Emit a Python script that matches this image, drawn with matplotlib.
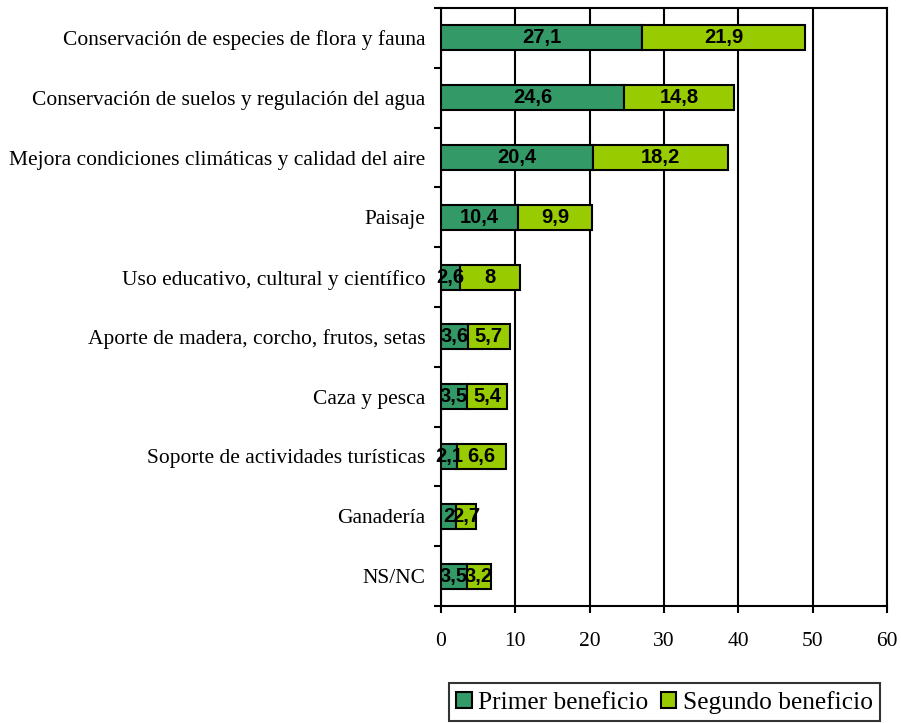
import matplotlib
matplotlib.use("Agg")
import matplotlib.pyplot as plt
import numpy as np

categories = [
    "Conservación de especies de flora y fauna",
    "Conservación de suelos y regulación del agua",
    "Mejora condiciones climáticas y calidad del aire",
    "Paisaje",
    "Uso educativo, cultural y científico",
    "Aporte de madera, corcho, frutos, setas",
    "Caza y pesca",
    "Soporte de actividades turísticas",
    "Ganadería",
    "NS/NC",
]
primer = [27.1, 24.6, 20.4, 10.4, 2.6, 3.6, 3.5, 2.1, 2.0, 3.5]
segundo = [21.9, 14.8, 18.2, 9.9, 8.0, 5.7, 5.4, 6.6, 2.7, 3.2]
series_names = ["Primer beneficio", "Segundo beneficio"]
colors = ["#339966", "#99CC00"]


def fmt(v):
    s = ("%.1f" % v).rstrip("0").rstrip(".")
    return s.replace(".", ",")


serif = "Liberation Serif"
sans = "Liberation Sans"

fig = plt.figure(figsize=(9.01, 7.23), dpi=100)
ax = fig.add_axes([441 / 901, 1 - 606 / 723, (887 - 441) / 901, (606 - 8) / 723])

y = np.arange(len(categories))
h = 0.42
b1 = ax.barh(y, primer, height=h, color=colors[0], edgecolor="black", lw=1.5,
             label=series_names[0], zorder=3)
b2 = ax.barh(y, segundo, left=primer, height=h, color=colors[1], edgecolor="black",
             lw=1.5, label=series_names[1], zorder=3)

for i in range(len(categories)):
    ax.text(primer[i] / 2, y[i], fmt(primer[i]), ha="center", va="center",
            fontsize=14.5, fontweight="bold", family=sans, zorder=5)
    ax.text(primer[i] + segundo[i] / 2, y[i], fmt(segundo[i]), ha="center",
            va="center", fontsize=14.5, fontweight="bold", family=sans, zorder=5)

ax.set_xlim(0, 60)
ax.set_ylim(len(categories) - 0.5, -0.5)
ax.set_xticks(range(0, 61, 10))
ax.xaxis.grid(True, color="black", lw=1.5, zorder=0)
ax.set_yticks(y)
ax.set_yticklabels(categories, family=serif, fontsize=15.5)
ax.tick_params(axis="y", length=0, pad=11)
ax.set_yticks(np.arange(-0.5, len(categories), 1.0), minor=True)
ax.tick_params(axis="y", which="minor", length=5, width=1.5)
ax.tick_params(axis="x", length=5, width=1.5, pad=14, labelsize=15.5)
for lab in ax.get_xticklabels():
    lab.set_family(serif)
for sp in ax.spines.values():
    sp.set_linewidth(1.5)

leg = fig.legend(handles=[b1, b2], loc="upper center",
                 bbox_to_anchor=(664.5 / 901, 1 - 683 / 723),
                 ncol=2, frameon=True, fancybox=False,
                 prop={"family": serif, "size": 18.3}, handlelength=0.6,
                 handleheight=0.6, handletextpad=0.25, columnspacing=0.5,
                 borderaxespad=0, borderpad=0.3)
leg.get_frame().set_edgecolor("black")
leg.get_frame().set_linewidth(1.5)

fig.savefig("out.png", dpi=100)
